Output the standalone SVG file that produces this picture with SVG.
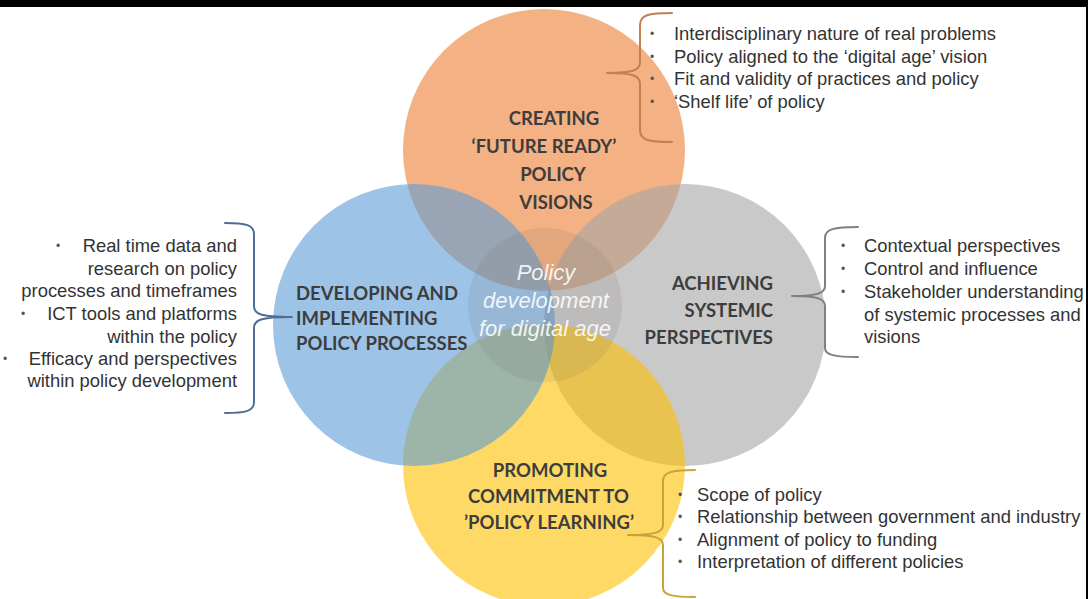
<svg xmlns="http://www.w3.org/2000/svg" width="1088" height="599" viewBox="0 0 1088 599">
<style>
  .circ { fill-opacity: 0.6; }
  .lbl { font-family: Lato, "Open Sans", "Liberation Sans", sans-serif; font-weight: bold; font-size: 18.5px; fill: #3d3d3d; }
  .li { font-family: "Liberation Sans", Arial, sans-serif; font-size: 18.4px; fill: #333333; }
  .bul { font-family: "Liberation Sans", Arial, sans-serif; font-size: 12px; fill: #555555; text-anchor: middle; }
  .ctr { font-family: "Liberation Sans", Arial, sans-serif; font-style: italic; font-size: 22px; fill: #ffffff; fill-opacity: 0.88; text-anchor: middle; }
  .brace { fill: none; stroke-width: 2; stroke-linecap: round; stroke-linejoin: round; }
</style>
<rect x="0" y="0" width="1088" height="599" fill="#ffffff"/>

<g id="node-top">
  <circle class="circ" cx="544" cy="150" r="141" fill="#ED7D31"/>
</g>
<g id="node-right">
  <circle class="circ" cx="685" cy="325" r="141" fill="#A5A5A5"/>
</g>
<g id="node-bottom">
  <circle class="circ" cx="544" cy="465" r="141" fill="#FFC000"/>
</g>
<g id="node-left">
  <circle class="circ" cx="414" cy="325" r="141" fill="#5B9BD5"/>
</g>
<g id="node-center">
  <circle cx="545" cy="305" r="77" fill="#6f655c" fill-opacity="0.12"/>
  <text class="ctr" x="546" y="280">Policy</text>
  <text class="ctr" x="546" y="308">development</text>
  <text class="ctr" x="545" y="336">for digital age</text>
</g>

<g id="labels">
  <g id="label-top" class="lbl" text-anchor="middle">
    <text x="554" y="125">CREATING</text>
    <text x="544" y="153">‘FUTURE READY’</text>
    <text x="553" y="181">POLICY</text>
    <text x="556" y="209">VISIONS</text>
  </g>
  <g id="label-left" class="lbl">
    <text x="296" y="300">DEVELOPING AND</text>
    <text x="296" y="325">IMPLEMENTING</text>
    <text x="296" y="350">POLICY PROCESSES</text>
  </g>
  <g id="label-right" class="lbl" text-anchor="end">
    <text x="773" y="290">ACHIEVING</text>
    <text x="773" y="317">SYSTEMIC</text>
    <text x="773" y="344">PERSPECTIVES</text>
  </g>
  <g id="label-bottom" class="lbl" text-anchor="middle">
    <text x="550" y="477">PROMOTING</text>
    <text x="548.5" y="503">COMMITMENT TO</text>
    <text x="549" y="529">’POLICY LEARNING’</text>
  </g>
</g>

<g id="connectors">
  <path class="brace" stroke="#C47F4E" d="M672,13 C648,13 640,15 640,25 L640,62 C640,70 634,73 607,73 C634,73 640,76 640,84 L640,130 C640,140 648,142 672,142"/>
  <path class="brace" stroke="#4E6E96" d="M225,223 C246,223 254,225 254,234 L254,306 C254,314 260,317 292,317 C260,317 254,320 254,328 L254,402 C254,411 246,413 225,413"/>
  <path class="brace" stroke="#808080" d="M858,227 C834,227 825,229 825,238 L825,286 C825,293 818,296 792,296 C818,296 825,299 825,306 L825,348 C825,355 834,357 858,357"/>
  <path class="brace" stroke="#C8A23A" d="M695,470 C672,470 663,472 663,481 L663,525 C663,532 656,535 628,535 C656,535 663,538 663,545 L663,588 C663,595 672,597 695,597"/>
</g>

<g id="list-top">
  <text class="bul" x="652" y="38">•</text>
  <text class="bul" x="652" y="61">•</text>
  <text class="bul" x="652" y="83">•</text>
  <text class="bul" x="652" y="106">•</text>
  <text class="li" x="674" y="40">Interdisciplinary nature of real problems</text>
  <text class="li" x="674" y="63">Policy aligned to the ‘digital age’ vision</text>
  <text class="li" x="674" y="85">Fit and validity of practices and policy</text>
  <text class="li" x="674" y="108">‘Shelf life’ of policy</text>
</g>

<g id="list-left">
  <text class="bul" x="58" y="250">•</text>
  <text class="bul" x="23" y="318">•</text>
  <text class="bul" x="5" y="363">•</text>
  <g class="li" text-anchor="end">
    <text x="237" y="252">Real time data and</text>
    <text x="237" y="275">research on policy</text>
    <text x="237" y="297">processes and timeframes</text>
    <text x="237" y="320">ICT tools and platforms</text>
    <text x="237" y="343">within the policy</text>
    <text x="237" y="365">Efficacy and perspectives</text>
    <text x="237" y="387">within policy development</text>
  </g>
</g>

<g id="list-right">
  <text class="bul" x="843" y="250">•</text>
  <text class="bul" x="843" y="273">•</text>
  <text class="bul" x="843" y="296">•</text>
  <text class="li" x="864" y="252">Contextual perspectives</text>
  <text class="li" x="864" y="275">Control and influence</text>
  <text class="li" x="864" y="298">Stakeholder understanding</text>
  <text class="li" x="864" y="321">of systemic processes and</text>
  <text class="li" x="864" y="343">visions</text>
</g>

<g id="list-bottom">
  <text class="bul" x="680" y="499">•</text>
  <text class="bul" x="680" y="521">•</text>
  <text class="bul" x="680" y="544">•</text>
  <text class="bul" x="680" y="566">•</text>
  <text class="li" x="697" y="501">Scope of policy</text>
  <text class="li" x="697" y="523">Relationship between government and industry</text>
  <text class="li" x="697" y="546">Alignment of policy to funding</text>
  <text class="li" x="697" y="568">Interpretation of different policies</text>
</g>

<rect x="0" y="0" width="1088" height="7" fill="#000000"/>
<rect x="1086" y="0" width="2" height="599" fill="#000000"/>
</svg>
